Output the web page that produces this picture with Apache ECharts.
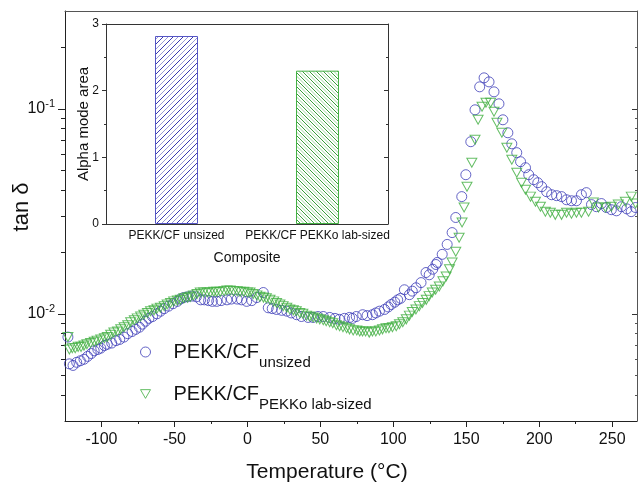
<!DOCTYPE html>
<html>
<head>
<meta charset="utf-8">
<script src="https://cdn.jsdelivr.net/npm/echarts@6/dist/echarts.min.js"></script>
<style>
html,body{margin:0;padding:0;background:#fff}
#chart{width:638px;height:488px}
</style>
</head>
<body>
<div id="chart"></div>
<script>
// tan delta vs temperature
var unsized = [
  [-123,0.0077],[-122,0.0057],[-119.5,0.0056],[-117,0.0058],[-114.5,0.0059],[-112,0.0060],
  [-109.5,0.0062],[-107,0.0064],[-105,0.0066],[-102.5,0.0067],[-100.5,0.0068],[-98,0.0070],
  [-96,0.0071],[-93,0.0072],[-90,0.0074],[-87.5,0.0075],[-84.6,0.0077],[-82,0.0080],
  [-79,0.0082],[-76.5,0.0084],[-74,0.0086],[-72,0.0089],[-69.8,0.0092],[-67.5,0.0095],
  [-65,0.0097],[-62,0.0100],[-59.5,0.0103],[-57,0.0106],[-54,0.0109],[-51,0.0112],
  [-48,0.0115],[-46,0.0118],[-43.7,0.0120],[-41,0.0121],[-38,0.0122],[-35,0.0121],
  [-32,0.0117],[-29.5,0.0117],[-26.6,0.0116],[-24,0.0115],[-21,0.0115],[-18,0.0116],
  [-14,0.0117],[-11,0.0118],[-7,0.0118],[-4,0.0117],[-0.5,0.0115],[3,0.0116],
  [6.4,0.0120],[10.9,0.0127],[14.3,0.0107],[17,0.0106],[20,0.0105],[23.5,0.0104],
  [27,0.0103],[30,0.0101],[33.7,0.0099],[37,0.0097],[41.6,0.0096],[45,0.0096],
  [48.4,0.0097],[52,0.0097],[56.4,0.0096],[60,0.0095],[63,0.0094],[66.5,0.0095],
  [70,0.0096],[72,0.0095],[74.6,0.0097],[79,0.0099],[82,0.0098],[85.7,0.0099],
  [88,0.0101],[90.5,0.0103],[94,0.0105],[96.5,0.0108],[98.5,0.0111],[101,0.0114],
  [103,0.0117],[105,0.0119],[107.6,0.0131],[111,0.0124],[113,0.0129],[115.6,0.0134],
  [119,0.0142],[122.4,0.0159],[124.6,0.0155],[127,0.0165],[129.2,0.0174],[130.1,0.0178],
  [133.5,0.0195],[136.9,0.0218],[140.3,0.0249],[142.8,0.0295],[146.9,0.0373],[149.7,0.0477],
  [153.1,0.0691],[156,0.0989],[159.2,0.128],[162.2,0.1416],[165.6,0.1353],[169,0.121],
  [172.4,0.1058],[175.1,0.0884],[178.5,0.0764],[181.2,0.0675],[184.6,0.0611],[187.2,0.0552],
  [190.6,0.0516],[192.8,0.0477],[196.2,0.0451],[199,0.0436],[201.7,0.0417],[205.1,0.0394],
  [208.5,0.0381],[211.9,0.0377],[215.3,0.0373],[218.7,0.0360],[222.1,0.0356],[225.5,0.0356],
  [228.9,0.0381],[232.3,0.0390],[235.8,0.0341],[239.2,0.0333],[242.6,0.0345],[246,0.0330],
  [249.4,0.0322],[252.9,0.0318],[256.3,0.0333],[260,0.0325],[263,0.0315],[266,0.0330]
];
var labSized = [
  [-123,0.0077],[-122,0.0067],[-120,0.0068],[-118,0.0068],[-116,0.0069],[-114,0.0069],
  [-112,0.0070],[-110,0.0071],[-107.5,0.0072],[-105,0.0073],[-103,0.0074],[-100.5,0.0075],
  [-98,0.0076],[-96,0.0077],[-93.7,0.0079],[-91.5,0.0081],[-89,0.0082],[-86.8,0.0084],
  [-84.5,0.0086],[-82,0.0088],[-80,0.0091],[-77.5,0.0093],[-75.5,0.0095],[-73.2,0.0097],
  [-71,0.0099],[-68.5,0.0101],[-66.4,0.0103],[-64,0.0104],[-62,0.0106],[-59.6,0.0107],
  [-57,0.0109],[-55,0.0111],[-52.7,0.0113],[-50.5,0.0115],[-48,0.0116],[-45.9,0.0117],
  [-43.5,0.0119],[-41,0.0120],[-39.1,0.0121],[-37,0.0123],[-34.5,0.0125],[-32.3,0.0127],
  [-30,0.0127],[-27.5,0.0127],[-25.4,0.0127],[-23,0.0128],[-21,0.0128],[-18.6,0.0128],
  [-16,0.0129],[-14,0.0130],[-11.8,0.0130],[-9.5,0.0129],[-7,0.0129],[-5,0.0128],
  [-2.5,0.0128],[0,0.0127],[1.8,0.0127],[4,0.0125],[6.5,0.0123],[8.6,0.0121],
  [11,0.0120],[13,0.0119],[15.5,0.0117],[18,0.0115],[20,0.0113],[22.3,0.0111],
  [24.5,0.0109],[27,0.0107],[29.1,0.0105],[31.5,0.0104],[33.5,0.0103],[35.9,0.0101],
  [38,0.0100],[40.5,0.0098],[42.8,0.0097],[45,0.0096],[47.5,0.0095],[49.6,0.0094],
  [52,0.0093],[54,0.0092],[56.4,0.0091],[58.5,0.0090],[61,0.0088],[63.2,0.0087],
  [65.5,0.0086],[68,0.0085],[70,0.0084],[72.5,0.0083],[75,0.0083],[77,0.0082],
  [78.9,0.0082],[81,0.0082],[83.5,0.0081],[85.7,0.0082],[88,0.0082],[90.5,0.0083],
  [92.6,0.0084],[95,0.0085],[97,0.0085],[99.4,0.0086],[102,0.0087],[104.2,0.0089],
  [106.5,0.0091],[108.9,0.0094],[111,0.0098],[113,0.0102],[115.5,0.0105],[117.8,0.0109],
  [120,0.0113],[122.6,0.0117],[124.5,0.0122],[126.7,0.0127],[129,0.0131],[131.5,0.0136],
  [134,0.0144],[136.2,0.0152],[138.5,0.0165],[140.3,0.0178],[142.8,0.0201],[145.1,0.0235],
  [147.1,0.0279],[148.5,0.0330],[150.5,0.0417],[153.8,0.0546],[156,0.0706],[158.1,0.0884],
  [160.8,0.1023],[163.5,0.1070],[166.7,0.1070],[169,0.0967],[171,0.0855],[174.4,0.0764],
  [177.8,0.0646],[181.2,0.0564],[184.6,0.0488],[187.9,0.0436],[190.6,0.0403],[194,0.0373],
  [197.4,0.0352],[200.8,0.0333],[204.2,0.0315],[207.6,0.0311],[211,0.0304],[215.3,0.0304],
  [218.7,0.0311],[222.1,0.0308],[225.5,0.0311],[228.9,0.0311],[233.8,0.0315],[237.1,0.0349],
  [240.6,0.0330],[245.4,0.0330],[249.4,0.0333],[254.2,0.0341],[259,0.0352],[263.1,0.0373],
  [266,0.0345]
];
var xMajor = [-100, -50, 0, 50, 100, 150, 200, 250];
var xMinor = [-75, -25, 25, 75, 125, 175, 225];
var yMajor = [0.01, 0.1];
var yMinor = [0.004, 0.005, 0.006, 0.007, 0.008, 0.009,
              0.02, 0.03, 0.04, 0.05, 0.06, 0.07, 0.08, 0.09, 0.2];
// inset bar chart
var barNames = ['PEKK/CF unsized', 'PEKK/CF PEKKo lab-sized'];
var barValues = [2.82, 2.30];

var FONT = '"Liberation Sans", Arial, sans-serif';
var BLUE = '#3d3db8';
var GREEN = '#3fae3f';

function hatch(c1, c2, size, dir) {
    var cv = document.createElement('canvas');
    cv.width = size; cv.height = size;
    var ctx = cv.getContext('2d');
    ctx.lineWidth = 1;
    var h = size / 2;
    function seg(x1, y1, x2, y2, c) {
        ctx.strokeStyle = c;
        ctx.beginPath();
        if (dir > 0) { ctx.moveTo(x1, size - y1); ctx.lineTo(x2, size - y2); }
        else { ctx.moveTo(x1, y1); ctx.lineTo(x2, y2); }
        ctx.stroke();
    }
    seg(-1, -1, size + 1, size + 1, c1);
    seg(-1, h - 1, h + 1, size + 1, c2);
    seg(h - 1, -1, size + 1, h + 1, c2);
    return cv;
}

var chart = echarts.init(document.getElementById('chart'));

var logCommon = { type: 'log', logBase: 10, min: 0.003, max: 0.3, gridIndex: 0,
                  splitLine: { show: false }, minorTick: { show: false } };
function line(c) { return { show: true, onZero: false, lineStyle: { color: c, width: 1 } }; }
var noLine = { show: false, onZero: false };

var option = {
    animation: false,
    textStyle: { fontFamily: FONT },
    grid: [
        { left: 65, top: 11, width: 572, height: 410, outerBoundsMode: 'none', containLabel: false },
        { left: 106, top: 24, width: 282, height: 200, outerBoundsMode: 'none', containLabel: false }
    ],
    legend: {
        left: 140, top: 342, orient: 'vertical', padding: 0, itemGap: 14,
        itemWidth: 10, itemHeight: 10, itemStyle: { borderWidth: 1 },
        selectedMode: false,
        formatter: function (name) {
            var i = name.indexOf(' ');
            return '{m|' + name.slice(0, i) + '}{s|' + name.slice(i + 1) + '}';
        },
        textStyle: {
            padding: [0, 0, 0, 18],
            rich: {
                m: { fontSize: 20, fontFamily: FONT, color: '#111' },
                s: { fontSize: 15, fontFamily: FONT, color: '#111', padding: [21, 0, 0, 0] }
            }
        },
        data: [
            { name: 'PEKK/CF unsized', icon: 'circle' },
            { name: 'PEKK/CF PEKKo lab-sized', icon: 'path://M0,0L10,0L5,8.7Z' }
        ]
    },
    xAxis: [
        { type: 'value', gridIndex: 0, min: -125, max: 267, position: 'bottom',
          name: 'Temperature (°C)', nameLocation: 'middle', nameGap: 41, nameMoveOverlap: false,
          nameTextStyle: { fontSize: 21, color: '#111', padding: [0, 48, 0, 0] },
          axisLine: line('#222'),
          axisTick: { show: true, inside: false, length: 6, customValues: xMajor, lineStyle: { color: '#222' } },
          axisLabel: { fontSize: 16, color: '#111', margin: 11, customValues: xMajor },
          splitLine: { show: false } },
        { type: 'value', gridIndex: 0, min: -125, max: 267, position: 'bottom',
          axisLine: noLine,
          axisTick: { show: true, length: 3, customValues: xMinor, lineStyle: { color: '#222' } },
          axisLabel: { show: false }, splitLine: { show: false } },
        { type: 'value', gridIndex: 0, min: -125, max: 267, position: 'top',
          axisLine: line('#555'),
          axisTick: { show: false }, axisLabel: { show: false }, splitLine: { show: false } },
        { type: 'category', gridIndex: 1, data: barNames, position: 'bottom',
          name: 'Composite', nameLocation: 'middle', nameGap: 27, nameMoveOverlap: false,
          nameTextStyle: { fontSize: 14, color: '#111' },
          axisLine: line('#333'),
          axisTick: { show: false },
          axisLabel: { fontSize: 12, color: '#111', margin: 6, interval: 0 } },
        { type: 'value', gridIndex: 1, min: 0, max: 1, position: 'top',
          axisLine: line('#333'),
          axisTick: { show: false }, axisLabel: { show: false }, splitLine: { show: false } }
    ],
    yAxis: [
        Object.assign({}, logCommon, {
            position: 'left',
            name: 'tan δ', nameLocation: 'middle', nameGap: 32, nameMoveOverlap: false,
            nameTextStyle: { fontSize: 22, color: '#111', padding: [0, 0, 0, 18] },
            axisLine: line('#222'),
            axisTick: { show: true, length: 7, customValues: yMajor, lineStyle: { color: '#222' } },
            axisLabel: {
                margin: 10, customValues: yMajor,
                formatter: function (v) {
                    return '{b|10}{s|' + Math.round(Math.log10(v)) + '}';
                },
                rich: {
                    b: { fontSize: 16, color: '#111', fontFamily: FONT },
                    s: { fontSize: 11, color: '#111', fontFamily: FONT, padding: [0, 0, 10, 0] }
                }
            }
        }),
        Object.assign({}, logCommon, {
            position: 'left',
            axisLine: noLine,
            axisTick: { show: true, length: 4, customValues: yMinor, lineStyle: { color: '#222' } },
            axisLabel: { show: false }
        }),
        Object.assign({}, logCommon, {
            position: 'right',
            axisLine: line('#555'),
            axisTick: { show: true, inside: true, length: 5, customValues: yMajor, lineStyle: { color: '#333' } },
            axisLabel: { show: false }
        }),
        Object.assign({}, logCommon, {
            position: 'right',
            axisLine: noLine,
            axisTick: { show: true, inside: true, length: 2, customValues: yMinor, lineStyle: { color: '#555' } },
            axisLabel: { show: false }
        }),
        { type: 'value', gridIndex: 1, min: 0, max: 3, interval: 1, position: 'left',
          name: 'Alpha mode area', nameLocation: 'middle', nameGap: 15, nameMoveOverlap: false,
          nameTextStyle: { fontSize: 15, color: '#111' },
          axisLine: line('#333'),
          axisTick: { show: true, length: 4, lineStyle: { color: '#333' } },
          minorTick: { show: true, splitNumber: 2, length: 2, lineStyle: { color: '#333' } },
          axisLabel: { fontSize: 12, color: '#111', margin: 7 },
          splitLine: { show: false } },
        { type: 'value', gridIndex: 1, min: 0, max: 3, interval: 1, position: 'right',
          axisLine: line('#333'),
          axisTick: { show: true, inside: true, length: 4, lineStyle: { color: '#333' } },
          minorTick: { show: true, splitNumber: 2, length: 2, lineStyle: { color: '#333' } },
          axisLabel: { show: false }, splitLine: { show: false } }
    ],
    series: [
        { name: 'PEKK/CF unsized', type: 'scatter', xAxisIndex: 0, yAxisIndex: 0,
          data: unsized, symbol: 'circle', symbolSize: 10,
          itemStyle: { color: 'rgba(255,255,255,0)', borderColor: BLUE, borderWidth: 1 } },
        { name: 'PEKK/CF PEKKo lab-sized', type: 'scatter', xAxisIndex: 0, yAxisIndex: 0,
          data: labSized, symbol: 'path://M0,0L10,0L5,8.7Z', symbolSize: [10, 9],
          itemStyle: { color: 'rgba(255,255,255,0)', borderColor: GREEN, borderWidth: 1 } },
        { type: 'bar', xAxisIndex: 3, yAxisIndex: 4, barWidth: 43,
          data: [
              { value: barValues[0], itemStyle: {
                  color: { image: hatch('#3a3ab0', '#9a9ad8', 10, 1), repeat: 'repeat' },
                  borderColor: '#5555c4', borderWidth: 1 } },
              { value: barValues[1], itemStyle: {
                  color: { image: hatch('#3a9e3a', '#9fd59f', 7, -1), repeat: 'repeat' },
                  borderColor: '#44b044', borderWidth: 1 } }
          ] }
    ]
};
chart.setOption(option);
</script>
</body>
</html>
